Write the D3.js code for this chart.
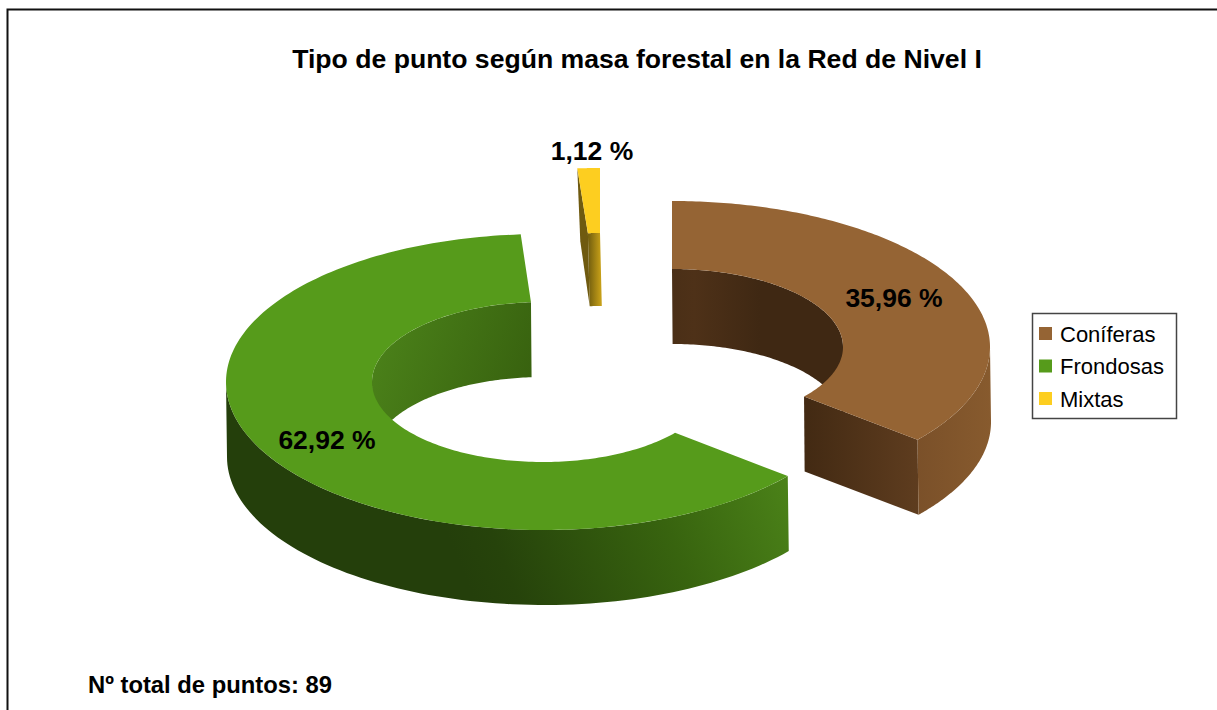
<!DOCTYPE html>
<html><head><meta charset="utf-8">
<script src="https://cdn.jsdelivr.net/npm/d3@7"></script>
<style>html,body{margin:0;padding:0;background:#fff;overflow:hidden}svg{display:block}text{font-family:"Liberation Sans",Arial,sans-serif;fill:#000}</style>
</head><body><svg id="c" width="1217" height="710"></svg>
<script>
const categories = ["Coníferas", "Frondosas", "Mixtas"];
const values = [35.96, 62.92, 1.12];
const titleText = "Tipo de punto según masa forestal en la Red de Nivel I";
const footerText = "Nº total de puntos: 89";

const colors = ["#956434", "#569b1b", "#fdce20"];
const geom = [
  {cx:672, cy:347, rx:318, ry:146, irx:171, iry:78, depth:75, dx:1, lx:894, ly:307},
  {cx:543, cy:382, rx:317, ry:148, irx:171, iry:80, depth:75, dx:1, lx:327, ly:449},
  {cx:600, cy:318, rx:323, ry:150, irx:172, iry:85, depth:73, dx:3, lx:592, ly:160}
];

const svg = d3.select("#c");
const defs = svg.append("defs");
function grad(id, x1, y1, x2, y2, stops){
  const g = defs.append("linearGradient").attr("id", id).attr("gradientUnits","userSpaceOnUse")
    .attr("x1",x1).attr("y1",y1).attr("x2",x2).attr("y2",y2);
  stops.forEach(s => g.append("stop").attr("offset",s[0]).attr("stop-color",s[1]));
  return `url(#${id})`;
}
const shades = [
 {outer:grad("o0",915,0,995,0,[[0,"#7a5029"],[1,"#885b2e"]]),
  inner:grad("i0",672,0,760,0,[[0,"#4a2f17"],[0.25,"#4e3118"],[1,"#3f2813"]]),
  cut:grad("c0",807,0,921,0,[[0,"#432a13"],[1,"#5f3d1f"]])},
 {outer:grad("o1",470,590,790,460,[[0,"#243f0b"],[0.12,"#26430b"],[0.6,"#38640f"],[1,"#4c8419"]]),
  inner:grad("i1",385,330,530,380,[[0,"#4a8019"],[1,"#38620f"]]),
  cut:"#38620f"},
 {outer:"#6f5a10",
  inner:grad("i2",589,0,601,0,[[0,"#77620f"],[1,"#c7a018"]]),
  cut:"#6f5a10"}
];

const pie = d3.pie().sort(null).value(d => d);
const arcs = pie(values);

// Angles run clockwise from the top, as in d3.pie. dz is the drop to the lower rim.
const pt = (g, a, inner, dz=0) => [
  g.cx + (inner ? g.irx : g.rx) * Math.sin(a) + (dz ? g.dx * (inner ? 0.6 : 1) : 0),
  g.cy - (inner ? g.iry : g.ry) * Math.cos(a) + dz
];
const sweep = (a0, a1, n=90) => d3.range(n + 1).map(i => a0 + (a1 - a0) * i / n);
const path = d3.line();

function overlap(a0, a1, lo, hi){
  const s = Math.max(a0, lo), e = Math.min(a1, hi);
  return s < e ? [s, e] : null;
}

arcs.forEach((d, i) => {
  const g = geom[i], s = shades[i], a0 = d.startAngle, a1 = d.endAngle;
  const G = svg.append("g").attr("class", "slice");
  const TAU = Math.PI * 2;
  // back part of the inner wall
  [[-Math.PI/2, Math.PI/2],[TAU-Math.PI/2, TAU+Math.PI/2]].forEach(r => {
    const o = overlap(a0, a1, r[0], r[1]);
    if (!o) return;
    const as = sweep(o[0], o[1]);
    G.append("path").attr("fill", s.inner)
      .attr("d", path(as.map(a => pt(g,a,true)).concat(as.slice().reverse().map(a => pt(g,a,true,g.depth)))) + "Z");
  });
  // visible cut faces
  [a0, a1].forEach((a, k) => {
    const faces = k === 0 ? (Math.sin(a) < 0) : (Math.sin(a) > 0 && Math.cos(a) < 0);
    if (!faces) return;
    G.append("path").attr("fill", s.cut)
      .attr("d", path([pt(g,a,false), pt(g,a,true), pt(g,a,true,g.depth), pt(g,a,false,g.depth)]) + "Z");
  });
  // front part of the outer wall
  const f = overlap(a0, a1, Math.PI/2, Math.PI*1.5);
  if (f) {
    const as = sweep(f[0], f[1]);
    G.append("path").attr("fill", s.outer)
      .attr("d", path(as.map(a => pt(g,a,false)).concat(as.slice().reverse().map(a => pt(g,a,false,g.depth)))) + "Z");
  }
  // top face
  const as = sweep(a0, a1, 180);
  G.append("path").attr("fill", colors[i])
    .attr("d", path(as.map(a => pt(g,a,false)).concat(as.slice().reverse().map(a => pt(g,a,true)))) + "Z");
});

// frame
svg.append("path").attr("d","M7.5,710V9.5H1217").attr("fill","none").attr("stroke","#111").attr("stroke-width",2);

// labels
const fmt = d3.formatLocale({decimal:",",thousands:".",grouping:[3],currency:["","€"]}).format(".2f");
svg.selectAll("text.val").data(values).join("text").attr("class","val")
  .attr("x",(d,i)=>geom[i].lx).attr("y",(d,i)=>geom[i].ly)
  .attr("text-anchor","middle").attr("font-size",26.5).attr("font-weight","bold")
  .text(d => fmt(d) + " %");

svg.append("text").attr("x",637).attr("y",68).attr("text-anchor","middle")
  .attr("font-size",26.6).attr("font-weight","bold").text(titleText);
svg.append("text").attr("x",88).attr("y",693).attr("font-size",23.8).attr("font-weight","bold").text(footerText);

// legend
svg.append("rect").attr("x",1032.5).attr("y",313.5).attr("width",144).attr("height",105)
  .attr("fill","#fff").attr("stroke","#444").attr("stroke-width",1.5);
const rowY = d3.scalePoint().domain(categories).range([333.5, 398.5]);
const leg = svg.selectAll("g.leg").data(categories).join("g").attr("class","leg");
leg.append("rect").attr("x",1039).attr("y",d=>rowY(d)-6.5).attr("width",13).attr("height",13)
  .attr("fill",(d,i)=>colors[i]);
leg.append("text").attr("x",1060).attr("y",d=>rowY(d)+8).attr("font-size",22).text(d=>d);
</script></body></html>
